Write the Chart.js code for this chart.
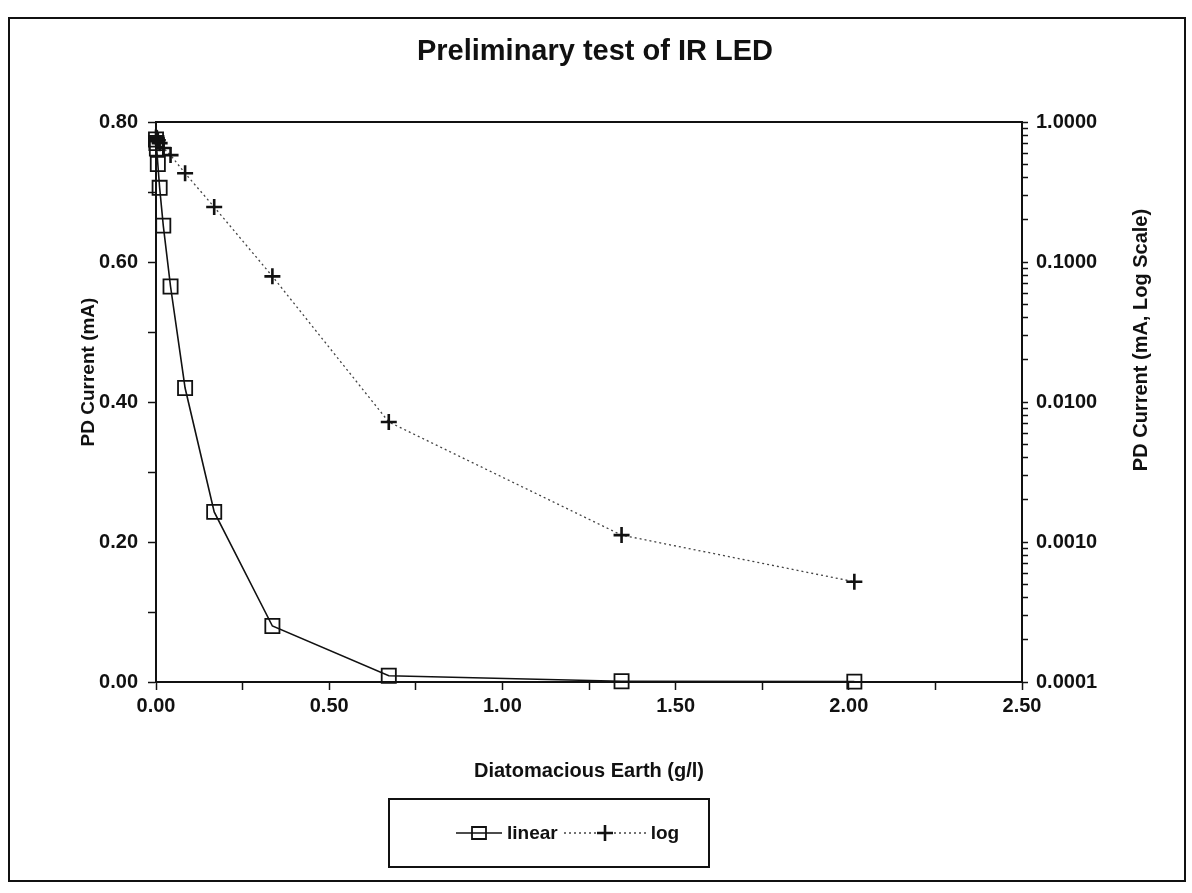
<!DOCTYPE html>
<html lang="en">
<head>
  <meta charset="UTF-8">
  <title>Preliminary test of IR LED</title>
  <script src="https://cdn.jsdelivr.net/npm/chart.js"></script>
  <style>
    body { margin: 0; background: #fff; font-family: "Liberation Sans", Arial, sans-serif; }
    #wrap { position: relative; width: 1192px; height: 893px; }
    #frame { position: absolute; left: 8px; top: 17px; width: 1174px; height: 861px; border: 2px solid #111; pointer-events: none; }
    #title { position: absolute; left: 395px; top: 33px; width: 400px; text-align: center; line-height: 34px;
      font-size: 29px; font-weight: bold; color: #111; }
    .ytitle { position: absolute; width: 400px; height: 24px; line-height: 24px; text-align: center;
      font-weight: bold; color: #111; white-space: nowrap; transform: rotate(-90deg); }
    #yLeftTitle { left: -112px; top: 360px; font-size: 19px; }
    #yRightTitle { left: 940px; top: 328px; font-size: 20px; }
    #legend { position: absolute; left: 388px; top: 798px; width: 318px; height: 66px; border: 2px solid #111;
      display: flex; align-items: center; justify-content: flex-start;
      font-weight: bold; font-size: 19px; color: #111; }
    #legend canvas:first-child { margin-left: 66px; }
    #legend span { margin: 0 6px 0 5px; }
  </style>
</head>

<body>
  <div id="wrap">
    <canvas id="irChart" width="1192" height="893"></canvas>
    <div id="frame"></div>
    <div id="title">Preliminary test of IR LED</div>
    <div class="ytitle" id="yLeftTitle">PD Current (mA)</div>
    <div class="ytitle" id="yRightTitle">PD Current (mA, Log Scale)</div>
    <div id="legend"></div>
  </div>
  <script>
    // values
    const concentration = [0, 0.0013, 0.0026, 0.00525, 0.0105, 0.021, 0.042, 0.084, 0.168, 0.336, 0.672, 1.344, 2.016];
    const linearCurrent = [0.775, 0.770, 0.762, 0.740, 0.706, 0.652, 0.565, 0.420, 0.243, 0.080, 0.009, 0.0011, 0.0005];
    const logCurrent = [0.775, 0.770, 0.762, 0.740, 0.706, 0.652, 0.580, 0.430, 0.247, 0.079, 0.0072, 0.00112, 0.00052];
    const seriesLabels = ['linear', 'log'];

    const rightTicks = [0.0001, 0.001, 0.01, 0.1, 1];
    const rightTickLabels = ['0.0001', '0.0010', '0.0100', '0.1000', '1.0000'];

    Chart.defaults.font.family = '"Liberation Sans", Arial, sans-serif';
    Chart.defaults.color = '#111';

    const toPoints = ys => concentration.map((x, i) => ({ x: x, y: ys[i] }));

    // closes the plot box (top edge)
    const plotFrame = {
      id: 'plotFrame',
      afterDraw(chart) {
        const a = chart.chartArea, c = chart.ctx;
        c.save();
        c.strokeStyle = '#111';
        c.lineWidth = 2;
        c.strokeRect(a.left, a.top, a.right - a.left, a.bottom - a.top);
        c.restore();
      }
    };

    const tickFont = { size: 20, weight: 'bold' };
    const axisGrid = { drawOnChartArea: false, color: '#111', tickColor: '#111', tickLength: 8, tickWidth: 1.5 };
    const axisBorder = { color: '#111', width: 2 };

    const chart = new Chart(document.getElementById('irChart'), {
      type: 'line',
      data: {
        datasets: [{
          label: seriesLabels[0],
          data: toPoints(linearCurrent),
          yAxisID: 'y',
          borderColor: '#111',
          borderWidth: 1.6,
          pointStyle: 'rect',
          pointRadius: 10,
          pointBorderWidth: 1.8,
          pointBorderColor: '#111',
          pointBackgroundColor: 'rgba(255,255,255,0)',
          tension: 0,
          clip: false
        }, {
          label: seriesLabels[1],
          data: toPoints(logCurrent),
          yAxisID: 'y2',
          borderColor: '#444',
          borderWidth: 1.3,
          borderDash: [2, 3],
          pointStyle: 'cross',
          pointRadius: 8,
          pointBorderWidth: 2.6,
          pointBorderColor: '#111',
          tension: 0,
          clip: false
        }]
      },
      options: {
        responsive: false,
        animation: false,
        events: [],
        layout: { padding: { left: 70, right: 38, top: 122, bottom: 108 } },
        plugins: {
          legend: { display: false },
          tooltip: { enabled: false },
          title: { display: false }
        },
        scales: {
          x: {
            type: 'linear',
            position: 'bottom',
            min: 0,
            max: 2.5,
            grid: axisGrid,
            border: axisBorder,
            ticks: {
              stepSize: 0.25,
              autoSkip: false,
              maxRotation: 0,
              padding: 4,
              font: tickFont,
              callback: v => Math.abs(v / 0.5 - Math.round(v / 0.5)) < 1e-6 ? v.toFixed(2) : ''
            },
            title: { display: true, text: 'Diatomacious Earth (g/l)', font: { size: 20, weight: 'bold' }, padding: { top: 2, bottom: 2 } },
            afterFit: s => { s.height = 103; }
          },
          y: {
            position: 'left',
            min: 0,
            max: 0.8,
            grid: axisGrid,
            border: axisBorder,
            ticks: {
              stepSize: 0.1,
              autoSkip: false,
              padding: 10,
              font: tickFont,
              callback: v => Math.abs(v / 0.2 - Math.round(v / 0.2)) < 1e-6 ? v.toFixed(2) : ''
            },
            afterFit: s => { s.width = 86; }
          },
          y2: {
            type: 'logarithmic',
            position: 'right',
            min: 0.0001,
            max: 1,
            grid: Object.assign({}, axisGrid, { tickLength: 6 }),
            border: axisBorder,
            afterBuildTicks: s => {
              const t = [];
              for (let d = 0; d < rightTicks.length; d++) {
                t.push({ value: rightTicks[d] });
                if (d < rightTicks.length - 1) {
                  for (let m = 2; m < 10; m++) t.push({ value: rightTicks[d] * m });
                }
              }
              s.ticks = t;
            },
            ticks: {
              autoSkip: false,
              padding: 8,
              font: tickFont,
              callback: v => {
                const i = rightTicks.findIndex(r => Math.abs(r - v) / r < 1e-6);
                return i >= 0 ? rightTickLabels[i] : '';
              }
            },
            afterFit: s => { s.width = 132; }
          }
        }
      },
      plugins: [plotFrame]
    });

    // legend box, built from the datasets
    const legend = document.getElementById('legend');
    chart.data.datasets.forEach(ds => {
      const w = ds.pointStyle === 'rect' ? 46 : 82;
      const icon = document.createElement('canvas');
      icon.width = w;
      icon.height = 20;
      const c = icon.getContext('2d');
      c.strokeStyle = ds.borderColor;
      c.lineWidth = ds.borderWidth;
      c.setLineDash(ds.borderDash || []);
      c.beginPath();
      c.moveTo(0, 10);
      c.lineTo(w, 10);
      c.stroke();
      c.setLineDash([]);
      c.strokeStyle = ds.pointBorderColor;
      c.lineWidth = ds.pointBorderWidth;
      c.beginPath();
      if (ds.pointStyle === 'rect') {
        c.rect(w / 2 - 7, 4, 14, 12);
      } else {
        c.moveTo(w / 2 - 8, 10); c.lineTo(w / 2 + 8, 10);
        c.moveTo(w / 2, 2); c.lineTo(w / 2, 18);
      }
      c.stroke();
      const label = document.createElement('span');
      label.textContent = ds.label;
      legend.appendChild(icon);
      legend.appendChild(label);
    });
  </script>
</body>

</html>
